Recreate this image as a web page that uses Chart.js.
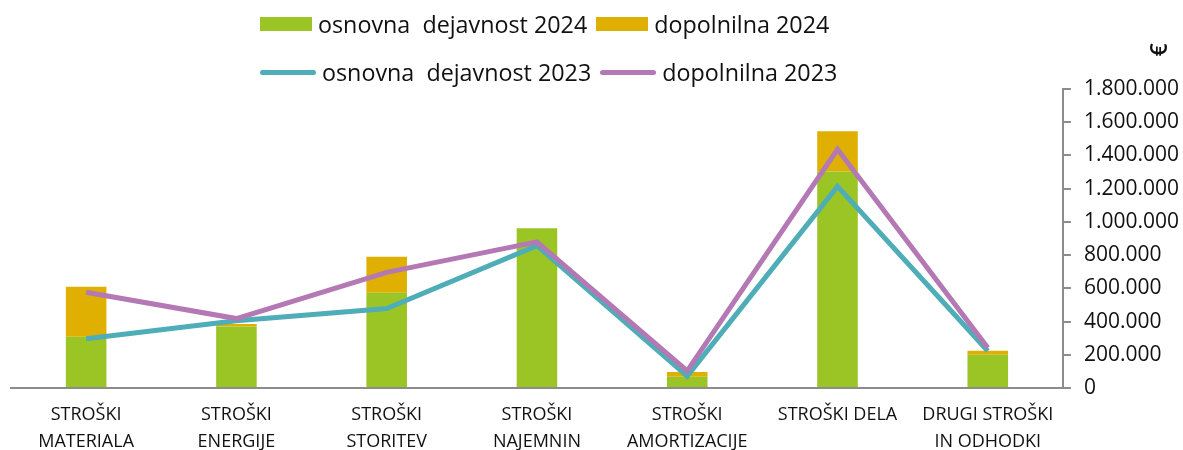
<!DOCTYPE html>
<html>
<head>
<meta charset="utf-8">
<script src="https://cdn.jsdelivr.net/npm/chart.js@4"></script>
<style>
    body { margin: 0; background: #fff; }
    #wrap { position: relative; width: 1183px; height: 450px; }
    #legend { position: absolute; left: 260px; top: 0px; font-family: "Open Sans", sans-serif; font-size: 23.3px; color: #111; }
    .row { display: flex; align-items: center; height: 48px; }
    .item { display: flex; align-items: center; margin-right: 9px; }
    .mark { margin-right: 6px; }
</style>
</head>
<body>
<div id="wrap">
    <canvas id="stroskiChart" width="1183" height="450"></canvas>
    <div id="legend"></div>
</div>
<script>
const categories = [
    ["STROŠKI", "MATERIALA"],
    ["STROŠKI", "ENERGIJE"],
    ["STROŠKI", "STORITEV"],
    ["STROŠKI", "NAJEMNIN"],
    ["STROŠKI", "AMORTIZACIJE"],
    ["STROŠKI DELA"],
    ["DRUGI STROŠKI", "IN ODHODKI"]
];
const osnovna2024 = [308000, 370000, 574000, 962000, 68000, 1304000, 200000];
const dopolnilna2024 = [302000, 16000, 216000, 0, 29000, 242000, 25000];
const osnovna2023 = [296000, 405000, 479000, 857000, 72000, 1214000, 223000];
const dopolnilna2023 = [576000, 418000, 696000, 880000, 103000, 1437000, 243000];
const yTicks = [0, 200000, 400000, 600000, 800000, 1000000, 1200000, 1400000, 1600000, 1800000];

const fmt = v => v.toString().replace(/\B(?=(\d{3})+(?!\d))/g, ".");

// € znak nad desno osjo, zasukan kot v izvirniku
const euroTitle = {
    id: "euroTitle",
    afterDraw(chart) {
        const c = chart.ctx;
        c.save();
        c.translate(1160, 50);
        c.rotate(-Math.PI / 2);
        c.font = "600 23px 'Open Sans'";
        c.fillStyle = "#111";
        c.textAlign = "center";
        c.textBaseline = "middle";
        c.fillText("€", 0, 0);
        c.restore();
    }
};

const chart = new Chart(document.getElementById("stroskiChart"), {
    type: "bar",
    data: {
        labels: categories,
        datasets: [
            { label: "osnovna  dejavnost 2024", data: osnovna2024, backgroundColor: "#9BC525", stack: "bars", order: 2 },
            { label: "dopolnilna 2024", data: dopolnilna2024, backgroundColor: "#DFAF02", stack: "bars", order: 3 },
            { type: "line", label: "osnovna  dejavnost 2023", data: osnovna2023, borderColor: "#4FADB8", backgroundColor: "#4FADB8", borderWidth: 5, pointRadius: 0, stack: "l1", order: 1 },
            { type: "line", label: "dopolnilna 2023", data: dopolnilna2023, borderColor: "#B478B4", backgroundColor: "#B478B4", borderWidth: 5, pointRadius: 0, stack: "l2", order: 0 }
        ]
    },
    options: {
        responsive: false,
        animation: false,
        layout: { padding: { top: 89, left: 11, right: -9, bottom: -10 } },
        barPercentage: 0.27,
        categoryPercentage: 1,
        plugins: {
            legend: { display: false },
            tooltip: { enabled: false }
        },
        scales: {
            x: {
                stacked: true,
                grid: { display: false },
                border: { display: true, color: "#8C8C8C", width: 2 },
                ticks: {
                    color: "#111",
                    font: { family: "Open Sans", size: 18, lineHeight: 1.5 },
                    padding: 5,
                    maxRotation: 0,
                    autoSkip: false
                }
            },
            y: {
                position: "right",
                stacked: true,
                min: 0,
                max: 1800000,
                afterBuildTicks: axis => { axis.ticks = yTicks.map(v => ({ value: v })); },
                grid: { drawOnChartArea: false, color: "#8C8C8C", lineWidth: 2, tickLength: 8 },
                border: { display: true, color: "#8C8C8C", width: 2 },
                ticks: {
                    color: "#111",
                    font: { family: "Open Sans", size: 21 },
                    padding: 13,
                    callback: v => fmt(v)
                }
            }
        }
    },
    plugins: [euroTitle]
});

// legenda v dveh vrsticah
const legend = document.getElementById("legend");
const rows = [[0, 1], [2, 3]];
rows.forEach(r => {
    const row = document.createElement("div");
    row.className = "row";
    r.forEach(i => {
        const ds = chart.data.datasets[i];
        const item = document.createElement("div");
        item.className = "item";
        const mark = document.createElement("span");
        mark.className = "mark";
        mark.style.display = "inline-block";
        if (ds.type === "line") {
            mark.style.width = "56px";
            mark.style.height = "5px";
            mark.style.borderRadius = "3px";
        } else {
            mark.style.width = "52px";
            mark.style.height = "14px";
        }
        mark.style.background = ds.backgroundColor;
        const txt = document.createElement("span");
        txt.style.whiteSpace = "pre";
        txt.textContent = ds.label;
        item.appendChild(mark);
        item.appendChild(txt);
        row.appendChild(item);
    });
    legend.appendChild(row);
});
</script>
</body>
</html>
